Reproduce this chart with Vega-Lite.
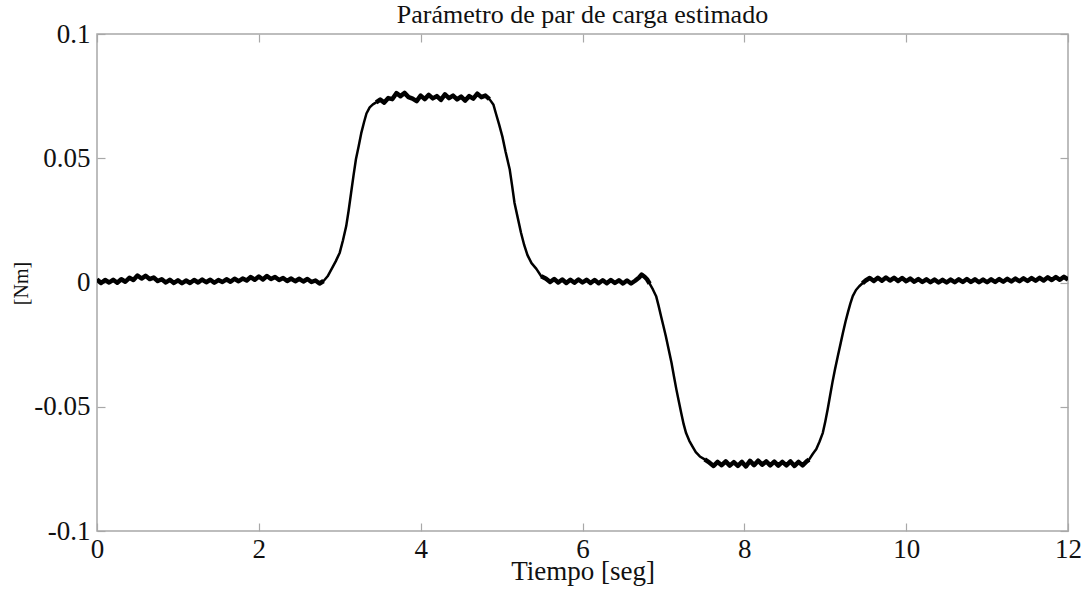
{
  "$schema": "https://vega.github.io/schema/vega-lite/v6.json",
  "autosize": {"type": "none"},
  "width": 971,
  "height": 497,
  "padding": {"left": 97, "top": 34, "right": 21, "bottom": 60},
  "background": "white",
  "config": {
    "font": "Liberation Serif",
    "view": {"stroke": "#a8a8a8", "strokeWidth": 1.5},
    "axis": {"grid": false, "domain": false, "tickColor": "#a8a8a8", "tickWidth": 1.2, "labelFont": "Liberation Serif", "titleFont": "Liberation Serif", "labelColor": "#111", "titleColor": "#111", "titleFontWeight": "normal"}
  },
  "title": {"text": "Parámetro de par de carga estimado", "font": "Liberation Serif", "fontSize": 26, "fontWeight": "normal", "color": "#111", "offset": -8},
  "data": {"values": [
    {"t":0.00,"v":0.0012},{"t":0.05,"v":-0.0002},{"t":0.10,"v":0.0010},{"t":0.15,"v":0.0000},{"t":0.20,"v":0.0011},{"t":0.25,"v":-0.0001},{"t":0.30,"v":0.0013},{"t":0.35,"v":0.0003},{"t":0.40,"v":0.0019},{"t":0.45,"v":0.0010},{"t":0.50,"v":0.0028},{"t":0.55,"v":0.0016},{"t":0.60,"v":0.0027},{"t":0.65,"v":0.0014},{"t":0.70,"v":0.0020},{"t":0.75,"v":0.0006},{"t":0.80,"v":0.0013},{"t":0.85,"v":0.0000},{"t":0.90,"v":0.0011},{"t":0.95,"v":-0.0002},{"t":1.00,"v":0.0009},{"t":1.05,"v":-0.0003},{"t":1.10,"v":0.0008},{"t":1.15,"v":-0.0002},{"t":1.20,"v":0.0010},{"t":1.25,"v":0.0000},{"t":1.30,"v":0.0012},{"t":1.35,"v":0.0001},{"t":1.40,"v":0.0011},{"t":1.45,"v":-0.0001},{"t":1.50,"v":0.0010},{"t":1.55,"v":0.0002},{"t":1.60,"v":0.0013},{"t":1.65,"v":0.0003},{"t":1.70,"v":0.0015},{"t":1.75,"v":0.0005},{"t":1.80,"v":0.0016},{"t":1.85,"v":0.0008},{"t":1.90,"v":0.0022},{"t":1.95,"v":0.0011},{"t":2.00,"v":0.0024},{"t":2.05,"v":0.0012},{"t":2.10,"v":0.0026},{"t":2.15,"v":0.0014},{"t":2.20,"v":0.0022},{"t":2.25,"v":0.0010},{"t":2.30,"v":0.0018},{"t":2.35,"v":0.0006},{"t":2.40,"v":0.0016},{"t":2.45,"v":0.0005},{"t":2.50,"v":0.0015},{"t":2.55,"v":0.0004},{"t":2.60,"v":0.0014},{"t":2.65,"v":0.0002},{"t":2.70,"v":0.0008},{"t":2.75,"v":-0.0004},{"t":2.80,"v":0.0006},
    {"t":2.85,"v":0.0025},{"t":2.90,"v":0.0055},{"t":2.95,"v":0.0085},{"t":3.00,"v":0.012},{"t":3.04,"v":0.017},{"t":3.08,"v":0.0227},{"t":3.11,"v":0.029},{"t":3.14,"v":0.036},{"t":3.17,"v":0.043},{"t":3.20,"v":0.0496},{"t":3.235,"v":0.055},{"t":3.265,"v":0.060},{"t":3.30,"v":0.0645},{"t":3.33,"v":0.068},{"t":3.37,"v":0.0705},{"t":3.41,"v":0.0717},{"t":3.45,"v":0.0725},
    {"t":3.50,"v":0.0736},{"t":3.55,"v":0.0724},{"t":3.60,"v":0.0742},{"t":3.65,"v":0.0738},{"t":3.70,"v":0.0762},{"t":3.75,"v":0.0750},{"t":3.80,"v":0.0763},{"t":3.85,"v":0.0746},{"t":3.90,"v":0.0740},{"t":3.95,"v":0.0730},{"t":4.00,"v":0.0752},{"t":4.05,"v":0.0738},{"t":4.10,"v":0.0755},{"t":4.15,"v":0.0741},{"t":4.20,"v":0.0750},{"t":4.25,"v":0.0735},{"t":4.30,"v":0.0757},{"t":4.35,"v":0.0742},{"t":4.40,"v":0.0752},{"t":4.45,"v":0.0737},{"t":4.50,"v":0.0748},{"t":4.55,"v":0.0732},{"t":4.60,"v":0.0750},{"t":4.65,"v":0.0740},{"t":4.70,"v":0.0760},{"t":4.75,"v":0.0746},{"t":4.80,"v":0.0752},{"t":4.85,"v":0.0738},
    {"t":4.90,"v":0.0715},{"t":4.93,"v":0.068},{"t":4.97,"v":0.0635},{"t":5.01,"v":0.0587},{"t":5.05,"v":0.0525},{"t":5.10,"v":0.0456},{"t":5.13,"v":0.039},{"t":5.16,"v":0.032},{"t":5.20,"v":0.026},{"t":5.24,"v":0.020},{"t":5.28,"v":0.015},{"t":5.32,"v":0.011},{"t":5.37,"v":0.0078},{"t":5.43,"v":0.0055},{"t":5.49,"v":0.0025},
    {"t":5.55,"v":0.0015},{"t":5.60,"v":0.0002},{"t":5.65,"v":0.0014},{"t":5.70,"v":0.0000},{"t":5.75,"v":0.0012},{"t":5.80,"v":-0.0002},{"t":5.85,"v":0.0011},{"t":5.90,"v":-0.0001},{"t":5.95,"v":0.0012},{"t":6.00,"v":0.0000},{"t":6.05,"v":0.0011},{"t":6.10,"v":-0.0002},{"t":6.15,"v":0.0010},{"t":6.20,"v":-0.0003},{"t":6.25,"v":0.0009},{"t":6.30,"v":-0.0003},{"t":6.35,"v":0.0010},{"t":6.40,"v":-0.0002},{"t":6.45,"v":0.0009},{"t":6.50,"v":-0.0004},{"t":6.55,"v":0.0008},{"t":6.60,"v":-0.0004},{"t":6.65,"v":0.0007},{"t":6.70,"v":0.0020},{"t":6.73,"v":0.0032},{"t":6.77,"v":0.0022},{"t":6.80,"v":0.0012},
    {"t":6.83,"v":-0.0005},{"t":6.87,"v":-0.0028},{"t":6.91,"v":-0.0055},{"t":6.94,"v":-0.0093},{"t":6.97,"v":-0.0135},{"t":7.00,"v":-0.0175},{"t":7.03,"v":-0.0216},{"t":7.065,"v":-0.027},{"t":7.10,"v":-0.0323},{"t":7.13,"v":-0.0377},{"t":7.16,"v":-0.043},{"t":7.19,"v":-0.0478},{"t":7.22,"v":-0.0525},{"t":7.25,"v":-0.057},{"t":7.28,"v":-0.0606},{"t":7.32,"v":-0.0637},{"t":7.36,"v":-0.066},{"t":7.40,"v":-0.0683},{"t":7.45,"v":-0.070},{"t":7.51,"v":-0.0712},
    {"t":7.57,"v":-0.0725},{"t":7.62,"v":-0.0738},{"t":7.67,"v":-0.0722},{"t":7.72,"v":-0.0735},{"t":7.77,"v":-0.0720},{"t":7.82,"v":-0.0737},{"t":7.87,"v":-0.0723},{"t":7.92,"v":-0.0738},{"t":7.97,"v":-0.0722},{"t":8.02,"v":-0.0740},{"t":8.07,"v":-0.0718},{"t":8.12,"v":-0.0735},{"t":8.17,"v":-0.0717},{"t":8.22,"v":-0.0733},{"t":8.27,"v":-0.0720},{"t":8.32,"v":-0.0736},{"t":8.37,"v":-0.0721},{"t":8.42,"v":-0.0737},{"t":8.47,"v":-0.0722},{"t":8.52,"v":-0.0736},{"t":8.57,"v":-0.0720},{"t":8.62,"v":-0.0738},{"t":8.67,"v":-0.0722},{"t":8.72,"v":-0.0736},{"t":8.77,"v":-0.0720},
    {"t":8.80,"v":-0.0713},{"t":8.845,"v":-0.069},{"t":8.89,"v":-0.067},{"t":8.93,"v":-0.064},{"t":8.97,"v":-0.0605},{"t":9.00,"v":-0.056},{"t":9.03,"v":-0.051},{"t":9.06,"v":-0.0455},{"t":9.09,"v":-0.040},{"t":9.12,"v":-0.035},{"t":9.155,"v":-0.0297},{"t":9.19,"v":-0.0245},{"t":9.22,"v":-0.020},{"t":9.25,"v":-0.0158},{"t":9.28,"v":-0.012},{"t":9.31,"v":-0.0085},{"t":9.34,"v":-0.0055},{"t":9.38,"v":-0.003},{"t":9.42,"v":-0.0015},{"t":9.46,"v":-0.0003},
    {"t":9.50,"v":0.0008},{"t":9.55,"v":0.0018},{"t":9.60,"v":0.0006},{"t":9.65,"v":0.0019},{"t":9.70,"v":0.0007},{"t":9.75,"v":0.0020},{"t":9.80,"v":0.0008},{"t":9.85,"v":0.0019},{"t":9.90,"v":0.0006},{"t":9.95,"v":0.0018},{"t":10.00,"v":0.0005},{"t":10.05,"v":0.0016},{"t":10.10,"v":0.0003},{"t":10.15,"v":0.0014},{"t":10.20,"v":0.0002},{"t":10.25,"v":0.0013},{"t":10.30,"v":0.0001},{"t":10.35,"v":0.0012},{"t":10.40,"v":0.0000},{"t":10.45,"v":0.0011},{"t":10.50,"v":0.0000},{"t":10.55,"v":0.0012},{"t":10.60,"v":0.0001},{"t":10.65,"v":0.0013},{"t":10.70,"v":0.0002},{"t":10.75,"v":0.0014},{"t":10.80,"v":0.0002},{"t":10.85,"v":0.0013},{"t":10.90,"v":0.0001},{"t":10.95,"v":0.0012},{"t":11.00,"v":0.0001},{"t":11.05,"v":0.0013},{"t":11.10,"v":0.0002},{"t":11.15,"v":0.0014},{"t":11.20,"v":0.0003},{"t":11.25,"v":0.0015},{"t":11.30,"v":0.0004},{"t":11.35,"v":0.0016},{"t":11.40,"v":0.0005},{"t":11.45,"v":0.0017},{"t":11.50,"v":0.0006},{"t":11.55,"v":0.0018},{"t":11.60,"v":0.0007},{"t":11.65,"v":0.0019},{"t":11.70,"v":0.0008},{"t":11.75,"v":0.0021},{"t":11.80,"v":0.0010},{"t":11.85,"v":0.0022},{"t":11.90,"v":0.0011},{"t":11.95,"v":0.0023},{"t":12.00,"v":0.0012}
  ]},
  "layer": [
    {
      "mark": {"type": "line", "color": "black", "strokeWidth": 2.5, "strokeJoin": "round", "clip": true},
      "encoding": {
        "x": {"field": "t", "type": "quantitative", "scale": {"domain": [0, 12], "nice": false, "zero": false},
              "axis": {"orient": "bottom", "values": [0, 2, 4, 6, 8, 10, 12], "tickSize": -8, "labelPadding": 13, "labelFontSize": 27, "title": "Tiempo [seg]", "titleFontSize": 27, "titlePadding": -4, "labelFlush": false, "labelOverlap": false}},
        "y": {"field": "v", "type": "quantitative", "scale": {"domain": [-0.1, 0.1], "nice": false, "zero": false},
              "axis": {"orient": "left", "values": [-0.1, -0.05, 0, 0.05, 0.1], "format": "~g", "labelExpr": "replace(datum.label, '−', '-')", "tickSize": -8, "labelPadding": 15, "labelFontSize": 27, "title": "[Nm]", "titleFontSize": 20, "titleX": -66, "titleY": 249, "titleAngle": -90, "labelFlush": false, "labelOverlap": false}}
      }
    },
    {
      "mark": {"type": "line", "strokeOpacity": 0, "color": "black"},
      "encoding": {
        "x": {"field": "t", "type": "quantitative", "axis": {"orient": "top", "values": [0, 2, 4, 6, 8, 10, 12], "tickSize": -8, "labels": false, "title": null}},
        "y": {"field": "v", "type": "quantitative", "axis": {"orient": "right", "values": [-0.1, -0.05, 0, 0.05, 0.1], "tickSize": -8, "labels": false, "title": null}}
      }
    },
    {"transform": [{"filter": {"field": "t", "range": [0, 2.82]}}], "mark": {"type": "line", "color": "black", "strokeWidth": 4.5, "strokeJoin": "round", "clip": true}, "encoding": {"x": {"field": "t", "type": "quantitative", "axis": null}, "y": {"field": "v", "type": "quantitative", "axis": null}}},
    {"transform": [{"filter": {"field": "t", "range": [3.42, 4.88]}}], "mark": {"type": "line", "color": "black", "strokeWidth": 4.5, "strokeJoin": "round", "clip": true}, "encoding": {"x": {"field": "t", "type": "quantitative", "axis": null}, "y": {"field": "v", "type": "quantitative", "axis": null}}},
    {"transform": [{"filter": {"field": "t", "range": [5.45, 6.85]}}], "mark": {"type": "line", "color": "black", "strokeWidth": 4.5, "strokeJoin": "round", "clip": true}, "encoding": {"x": {"field": "t", "type": "quantitative", "axis": null}, "y": {"field": "v", "type": "quantitative", "axis": null}}},
    {"transform": [{"filter": {"field": "t", "range": [7.5, 8.82]}}], "mark": {"type": "line", "color": "black", "strokeWidth": 4.5, "strokeJoin": "round", "clip": true}, "encoding": {"x": {"field": "t", "type": "quantitative", "axis": null}, "y": {"field": "v", "type": "quantitative", "axis": null}}},
    {"transform": [{"filter": {"field": "t", "range": [9.45, 12]}}], "mark": {"type": "line", "color": "black", "strokeWidth": 4.5, "strokeJoin": "round", "clip": true}, "encoding": {"x": {"field": "t", "type": "quantitative", "axis": null}, "y": {"field": "v", "type": "quantitative", "axis": null}}}
  ]
}
